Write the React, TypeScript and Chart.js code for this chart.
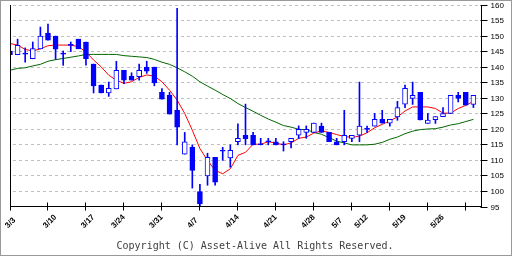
import React, { useEffect, useRef } from 'react';
import { Chart, registerables } from 'chart.js';

Chart.register(...registerables);

// Trading days (2008-03-03 .. 2008-06-02)
const dates = [
  '3/3', '3/4', '3/5', '3/6', '3/7', '3/10', '3/11', '3/12', '3/13', '3/14',
  '3/17', '3/18', '3/19', '3/21', '3/24', '3/25', '3/26', '3/27', '3/28', '3/31',
  '4/1', '4/2', '4/3', '4/4', '4/7', '4/8', '4/9', '4/10', '4/11', '4/14',
  '4/15', '4/16', '4/17', '4/18', '4/21', '4/22', '4/23', '4/24', '4/25', '4/28',
  '4/30', '5/1', '5/2', '5/7', '5/8', '5/9', '5/12', '5/13', '5/14', '5/15',
  '5/16', '5/19', '5/20', '5/21', '5/22', '5/23', '5/26', '5/27', '5/28', '5/29',
  '5/30', '6/2',
];

const openP = [
  145.2, 144.0, 144.2, 142.7, 145.9, 151.0, 150.0, 144.2, 147.0, 149.0,
  148.1, 141.0, 134.2, 131.7, 133.0, 139.0, 137.1, 136.9, 140.0, 140.0,
  131.9, 131.0, 126.1, 112.0, 114.2, 100.0, 105.0, 111.0, 113.0, 110.8,
  116.0, 118.1, 118.1, 115.3, 116.0, 116.0, 115.0, 116.0, 118.1, 119.0,
  119.0, 121.0, 119.0, 116.0, 116.0, 117.1, 118.1, 120.0, 121.0, 123.2,
  122.0, 124.0, 128.1, 129.9, 131.9, 121.9, 123.1, 124.1, 125.1, 130.9,
  131.9, 128.0,
];
const highP = [
  145.2, 149.0, 146.2, 148.1, 152.9, 153.9, 150.0, 145.2, 148.1, 149.0,
  148.1, 141.0, 134.2, 135.2, 141.9, 139.0, 138.2, 141.0, 141.9, 140.0,
  133.1, 131.9, 158.9, 119.0, 115.0, 102.3, 112.3, 111.0, 114.2, 115.0,
  121.8, 128.1, 119.0, 117.1, 117.1, 117.1, 116.0, 117.1, 121.1, 121.1,
  122.0, 122.0, 119.0, 117.1, 126.1, 118.1, 135.2, 121.0, 125.1, 126.1,
  123.2, 129.0, 134.2, 135.2, 131.9, 125.1, 124.1, 127.0, 130.9, 131.9,
  131.9, 130.9,
];
const lowP = [
  144.0, 144.0, 141.6, 142.7, 145.9, 148.7, 142.5, 140.6, 145.0, 145.9,
  140.6, 131.7, 131.7, 130.6, 133.0, 134.7, 135.8, 135.8, 138.0, 134.0,
  129.7, 124.9, 115.0, 112.0, 101.1, 95.0, 102.0, 102.0, 110.0, 107.8,
  115.0, 115.0, 115.0, 115.0, 115.0, 115.0, 113.0, 114.0, 117.0, 117.1,
  119.0, 119.0, 116.0, 115.0, 115.0, 116.0, 116.0, 119.0, 121.0, 122.0,
  121.0, 122.9, 127.0, 128.0, 123.0, 121.9, 121.9, 124.1, 125.1, 128.8,
  127.8, 127.0,
];
const closeP = [
  144.0, 147.0, 144.2, 146.0, 150.0, 148.7, 145.8, 144.2, 147.0, 145.9,
  142.7, 134.0, 131.7, 133.2, 139.0, 135.8, 135.8, 139.0, 138.7, 134.9,
  129.7, 124.9, 120.7, 116.0, 106.8, 96.0, 111.0, 103.0, 113.0, 113.2,
  117.1, 117.0, 115.0, 115.0, 116.0, 115.0, 115.0, 117.1, 120.0, 120.0,
  122.0, 119.0, 116.0, 115.0, 118.1, 118.1, 121.0, 120.0, 123.2, 122.0,
  123.2, 127.0, 133.2, 130.9, 123.0, 123.0, 124.1, 125.1, 130.9, 129.9,
  127.8, 130.9,
];

// short (5-day) and long (25-day) moving averages
const maShort = [
  147.6, 147.1, 145.7, 145.2, 145.9, 146.9, 147.1, 147.1, 147.1, 146.6,
  144.9, 142.3, 140.1, 137.4, 135.8, 134.8, 135.3, 136.7, 137.5, 137.1,
  135.3, 132.6, 129.4, 125.1, 119.7, 113.8, 110.0, 106.8, 105.7, 107.3,
  111.6, 112.6, 115.2, 115.2, 116.0, 115.6, 115.0, 115.6, 117.1, 117.5,
  118.8, 119.5, 119.0, 118.3, 117.7, 117.4, 117.8, 118.9, 120.5, 121.6,
  122.7, 124.0, 125.9, 127.2, 127.2, 127.2, 126.7, 125.2, 125.2, 126.7,
  127.7, 129.0,
];
const maLong = [
  139.0, 139.6, 139.8, 140.4, 140.9, 141.9, 142.4, 142.8, 143.2, 143.6,
  144.1, 144.1, 144.1, 144.1, 144.1, 143.7, 143.5, 143.3, 143.1, 142.5,
  141.6, 140.9, 139.8, 138.5, 137.1, 135.3, 133.9, 132.6, 131.2, 129.9,
  128.3, 127.0, 125.8, 124.5, 123.3, 122.3, 121.2, 120.7, 120.0, 119.9,
  119.0, 118.4, 117.3, 116.2, 115.6, 115.0, 115.0, 115.0, 115.2, 115.8,
  116.8, 117.5, 118.6, 119.4, 119.9, 120.1, 120.2, 120.7, 121.4, 121.8,
  122.5, 123.2,
];

const xLabels = ['3/3', '3/10', '3/17', '3/24', '3/31', '4/7', '4/14', '4/21', '4/28', '5/7', '5/12', '5/19', '5/26'];
const yMin = 95;
const yMax = 160;
const yStep = 5;
const xStep = 5;
const copyright = 'Copyright (C) Asset-Alive All Rights Reserved.';

const BLUE = '#0000ff';

export default function App() {
  const ref = useRef<HTMLCanvasElement>(null);

  useEffect(() => {
    const canvas = ref.current;
    if (!canvas) return;

    const bodies = dates.map((_, i) => ({ x: i, y: [Math.min(openP[i], closeP[i]), Math.max(openP[i], closeP[i])] }));
    const wicks = dates.map((_, i) => ({ x: i, y: [lowP[i], highP[i]] }));
    const bodyFill = dates.map((_, i) => (closeP[i] > openP[i] ? '#ffffff' : BLUE));

    const yTicks: number[] = [];
    for (let v = yMin; v <= yMax; v += yStep) yTicks.push(v);
    const xTicks: number[] = [];
    for (let v = 0; v < dates.length; v += xStep) xTicks.push(v);

    const axesPlugin = {
      id: 'customAxes',
      beforeDatasetsDraw(chart: any) {
        const { ctx, chartArea: a, scales } = chart;
        const y = scales.y;
        ctx.save();
        ctx.strokeStyle = '#c0c0c0';
        ctx.lineWidth = 1;
        ctx.setLineDash([3, 3]);
        yTicks.forEach((v) => {
          if (v <= yMin) return;
          const py = Math.floor(y.getPixelForValue(v)) + 0.5;
          ctx.beginPath();
          ctx.moveTo(a.left + 3, py);
          ctx.lineTo(a.right - 1, py);
          ctx.stroke();
        });
        ctx.restore();
      },
      afterDatasetsDraw(chart: any) {
        const { ctx, chartArea: a, scales } = chart;
        const x = scales.x;
        const y = scales.y;
        const left = Math.floor(a.left) + 0.5;
        const right = Math.floor(a.right) + 0.5;
        const bottom = Math.round(a.bottom) - 0.5;
        const top = Math.floor(a.top) + 0.5;
        ctx.save();
        ctx.setLineDash([]);
        ctx.strokeStyle = '#000';
        ctx.lineWidth = 1;
        ctx.beginPath();
        ctx.moveTo(left, top - 0.5);
        ctx.lineTo(left, bottom);
        ctx.lineTo(right, bottom);
        ctx.moveTo(right, top - 0.5);
        ctx.lineTo(right, bottom + 0.5);
        ctx.stroke();

        // x ticks
        ctx.beginPath();
        xTicks.forEach((v) => {
          const px = Math.floor(x.getPixelForValue(v)) + 0.5;
          ctx.moveTo(px, bottom - 4);
          ctx.lineTo(px, bottom + 4);
        });
        // y ticks
        yTicks.forEach((v) => {
          const py = Math.floor(y.getPixelForValue(v)) + 0.5;
          ctx.moveTo(right - 1, py);
          ctx.lineTo(right + 6, py);
        });
        ctx.stroke();

        // y labels
        ctx.fillStyle = '#000';
        ctx.font = '8px "Liberation Sans", Arial, sans-serif';
        ctx.textAlign = 'left';
        ctx.textBaseline = 'middle';
        yTicks.forEach((v) => {
          const py = Math.floor(y.getPixelForValue(v)) + 0.5;
          ctx.fillText(String(v), right + 9, py);
        });

        // x labels
        ctx.font = 'bold 8px "Liberation Sans", Arial, sans-serif';
        ctx.textAlign = 'left';
        ctx.textBaseline = 'alphabetic';
        xLabels.forEach((lbl) => {
          const idx = dates.indexOf(lbl);
          const px = x.getPixelForValue(idx);
          ctx.save();
          ctx.translate(px - 2, bottom + 22);
          ctx.rotate(-Math.PI / 4);
          ctx.fillText(lbl, 0, 0);
          ctx.restore();
        });

        // copyright
        ctx.fillStyle = '#404040';
        ctx.font = '10px "DejaVu Sans Mono", monospace';
        ctx.textAlign = 'center';
        ctx.textBaseline = 'middle';
        ctx.fillText(copyright, 255, 246);

        // frame
        ctx.strokeStyle = '#999';
        ctx.strokeRect(0.5, 0.5, chart.width - 1, chart.height - 1);
        ctx.restore();
      },
    };

    const chart = new Chart(canvas, {
      type: 'bar',
      data: {
        datasets: [
          {
            type: 'bar',
            data: bodies as any,
            backgroundColor: bodyFill,
            borderColor: BLUE,
            borderWidth: 1,
            borderSkipped: false,
            barThickness: 5,
            minBarLength: 1,
            grouped: false,
            order: 0,
          } as any,
          {
            type: 'bar',
            data: wicks as any,
            backgroundColor: BLUE,
            borderWidth: 0,
            barThickness: 1,
            grouped: false,
            order: 1,
          } as any,
          {
            type: 'line',
            data: maShort.map((v, i) => ({ x: i, y: v })) as any,
            borderColor: '#ff0000',
            borderWidth: 1,
            pointRadius: 0,
            tension: 0,
            fill: false,
            order: 2,
          } as any,
          {
            type: 'line',
            data: maLong.map((v, i) => ({ x: i, y: v })) as any,
            borderColor: '#006600',
            borderWidth: 1,
            pointRadius: 0,
            tension: 0,
            fill: false,
            order: 3,
          } as any,
        ],
      },
      options: {
        animation: false,
        responsive: false,
        devicePixelRatio: 1,
        events: [],
        layout: { padding: { left: 10, top: 5, right: 31, bottom: 49 } },
        plugins: { legend: { display: false }, tooltip: { enabled: false } },
        scales: {
          x: { type: 'linear', min: 0, max: 62, display: false, offset: false },
          y: { type: 'linear', min: yMin, max: yMax, display: false },
        },
      } as any,
      plugins: [axesPlugin],
    });

    return () => chart.destroy();
  }, []);

  return (
    <div style={{ position: 'fixed', left: 0, top: 0, width: 512, height: 256, background: '#fff' }}>
      <canvas ref={ref} width={512} height={256} style={{ display: 'block', width: 512, height: 256 }} />
    </div>
  );
}
